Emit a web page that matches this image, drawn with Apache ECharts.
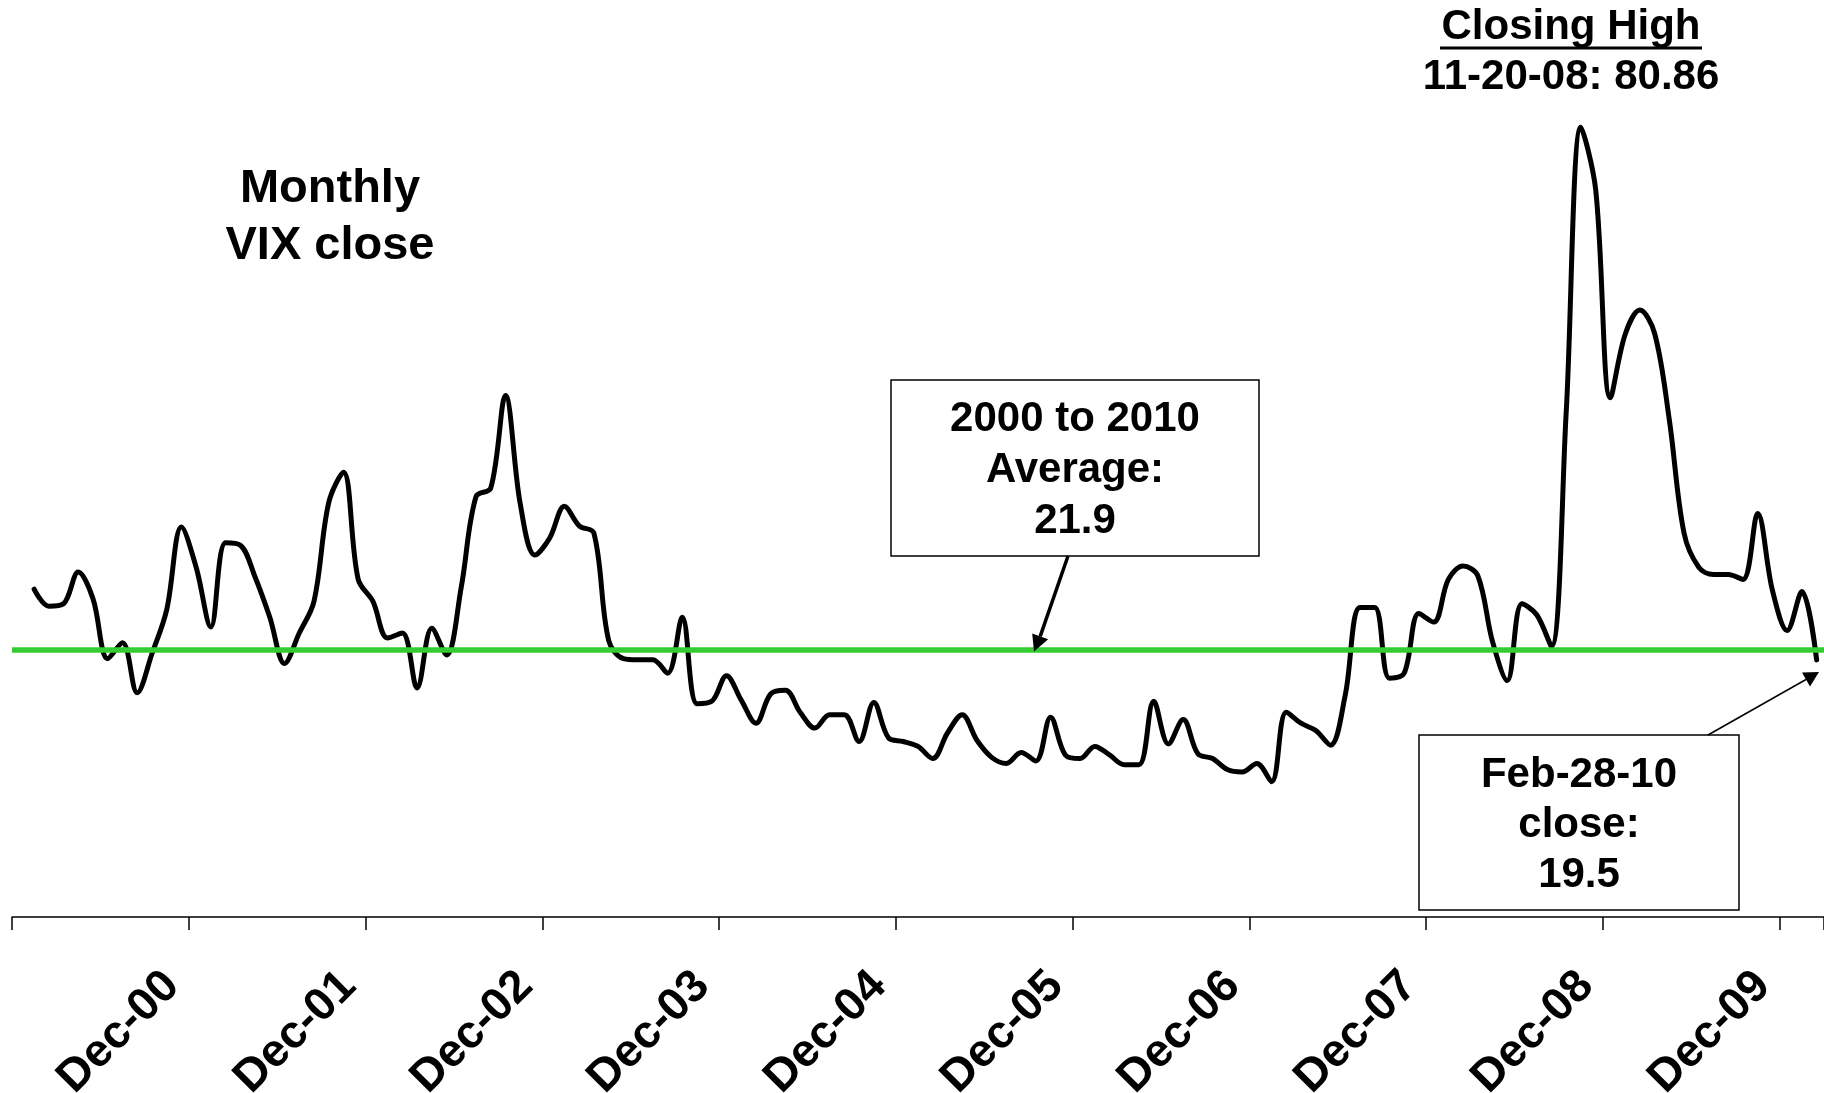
<!DOCTYPE html>
<html>
<head>
<meta charset="utf-8">
<script src="https://cdn.jsdelivr.net/npm/echarts@6/dist/echarts.min.js"></script>
<style>
html,body{margin:0;padding:0;background:#fff;}
#chart{width:1824px;height:1093px;}
</style>
</head>
<body>
<div id="chart"></div>
<script>
// ---- data ----
const monthNames = ['Jan','Feb','Mar','Apr','May','Jun','Jul','Aug','Sep','Oct','Nov','Dec'];
const years = ['00','01','02','03','04','05','06','07','08','09','10'];
// monthly VIX close, Jan-00 .. Feb-10
const vix2000 = [26.9, 25.5, 25.7, 28.3, 26.1, 21.2, 22.5, 18.4, 21.6, 25.2, 32.0, 28.7];
const vix2001 = [23.8, 30.7, 30.5, 27.9, 24.6, 20.8, 23.3, 25.9, 34.0, 36.5, 27.7, 25.9];
const vix2002 = [22.9, 23.3, 18.8, 23.7, 21.5, 27.1, 34.5, 35.2, 42.8, 33.9, 29.7, 31.1];
const vix2003 = [33.7, 32.1, 31.5, 22.7, 21.2, 21.1, 21.1, 20.0, 24.6, 17.5, 17.7, 19.8];
const vix2004 = [17.8, 15.9, 18.3, 18.6, 16.8, 15.5, 16.6, 16.6, 14.4, 17.6, 14.7, 14.4];
const vix2005 = [14.0, 13.0, 15.1, 16.6, 14.5, 13.1, 12.6, 13.5, 12.8, 16.4, 13.3, 13.0];
const vix2006 = [14.0, 13.3, 12.5, 12.5, 17.7, 14.2, 16.2, 13.4, 13.0, 12.1, 11.9, 12.6];
const vix2007 = [11.1, 16.8, 15.9, 15.3, 14.1, 18.2, 25.4, 25.4, 19.6, 20.0, 24.9, 24.2];
const vix2008 = [27.7, 28.8, 28.0, 22.6, 19.4, 25.7, 24.8, 22.2, 41.4, 64.8, 59.7, 42.6];
const vix2009 = [47.8, 49.8, 47.9, 40.8, 31.5, 28.7, 28.1, 28.1, 27.7, 33.1, 26.8, 23.5];
const vix2010 = [26.7, 21.1];
const averageValue = [21.9];

// categories: Dec-99 (empty lead-in) then Jan-00 .. Feb-10
const categories = ['Dec-99'];
years.forEach(function (y, yi) {
  const n = (yi === years.length - 1) ? 2 : 12;
  for (let m = 0; m < n; m++) categories.push(monthNames[m] + '-' + y);
});
const vixValues = [null].concat(vix2000, vix2001, vix2002, vix2003, vix2004, vix2005,
  vix2006, vix2007, vix2008, vix2009, vix2010);
const labelTicks = ['Dec-00','Dec-01','Dec-02','Dec-03','Dec-04','Dec-05','Dec-06','Dec-07','Dec-08','Dec-09'];

// ---- chart ----
const FONT = '"Liberation Sans", Arial, Helvetica, sans-serif';
const chart = echarts.init(document.getElementById('chart'), null, {renderer: 'canvas'});

function txt(text, x, y, size, lh) {
  return {
    type: 'text', z: 100,
    style: {
      text: text, x: x, y: y,
      font: 'bold ' + size + 'px ' + FONT,
      fill: '#000', align: 'center', verticalAlign: 'middle',
      textAlign: 'center', textVerticalAlign: 'middle',
      lineHeight: lh
    }
  };
}

const option = {
  backgroundColor: '#ffffff',
  animation: false,
  grid: {left: 12, right: 0, top: 3, bottom: 176, containLabel: false, outerBoundsMode: 'none'},
  xAxis: {
    type: 'category',
    data: categories,
    boundaryGap: true,
    axisLine: {show: true, onZero: false, lineStyle: {color: '#000', width: 1.5}},
    axisTick: {show: true, interval: 11, length: 13, lineStyle: {color: '#000', width: 1.5}},
    axisLabel: {
      show: true,
      interval: function (idx, val) { return labelTicks.indexOf(val) >= 0; },
      rotate: 45,
      margin: 38,
      padding: [0, 34, 0, 0],
      color: '#000',
      fontFamily: FONT,
      fontWeight: 'bold',
      fontSize: 46
    },
    splitLine: {show: false}
  },
  yAxis: {
    type: 'value', min: 0, max: 75, show: false,
    splitLine: {show: false}
  },
  series: [{
    type: 'line',
    data: vixValues,
    smooth: 0.35,
    showSymbol: false,
    symbol: 'none',
    connectNulls: false,
    lineStyle: {color: '#000', width: 5, cap: 'round', join: 'round'},
    z: 2,
    markLine: {
      silent: true,
      symbol: ['none', 'none'],
      label: {show: false},
      lineStyle: {color: '#33cc33', width: 5.5, type: 'solid'},
      data: [{yAxis: averageValue[0]}],
      z: 5
    }
  }],
  graphic: [
    txt('Monthly\nVIX close', 330, 218, 47, 57),
    txt('Closing High', 1571, 27, 42, 50),
    {type: 'line', z: 100, shape: {x1: 1440, y1: 48, x2: 1702, y2: 48}, style: {stroke: '#000', lineWidth: 3}},
    txt('11-20-08: 80.86', 1571, 77, 42, 50),
    {type: 'rect', z: 90, shape: {x: 891, y: 380, width: 368, height: 176},
      style: {fill: '#fff', stroke: '#000', lineWidth: 1.5}},
    txt('2000 to 2010\nAverage:\n21.9', 1075, 470, 42, 51),
    {type: 'line', z: 100, shape: {x1: 1068, y1: 556, x2: 1040.2, y2: 636.4}, style: {stroke: '#000', lineWidth: 3.5}},
    {type: 'polygon', z: 100, shape: {points: [[1034, 651.5], [1048.2, 639.2], [1032.2, 633.6]]}, style: {fill: '#000'}},
    {type: 'rect', z: 90, shape: {x: 1419, y: 735, width: 320, height: 175},
      style: {fill: '#fff', stroke: '#000', lineWidth: 1.5}},
    txt('Feb-28-10\nclose:\n19.5', 1579, 825, 42, 50),
    {type: 'line', z: 100, shape: {x1: 1708, y1: 735, x2: 1806, y2: 679.5}, style: {stroke: '#000', lineWidth: 1.5}},
    {type: 'polygon', z: 100, shape: {points: [[1819, 672], [1810, 686.4], [1802, 672.6]]}, style: {fill: '#000'}}
  ]
};
chart.setOption(option);
</script>
</body>
</html>
